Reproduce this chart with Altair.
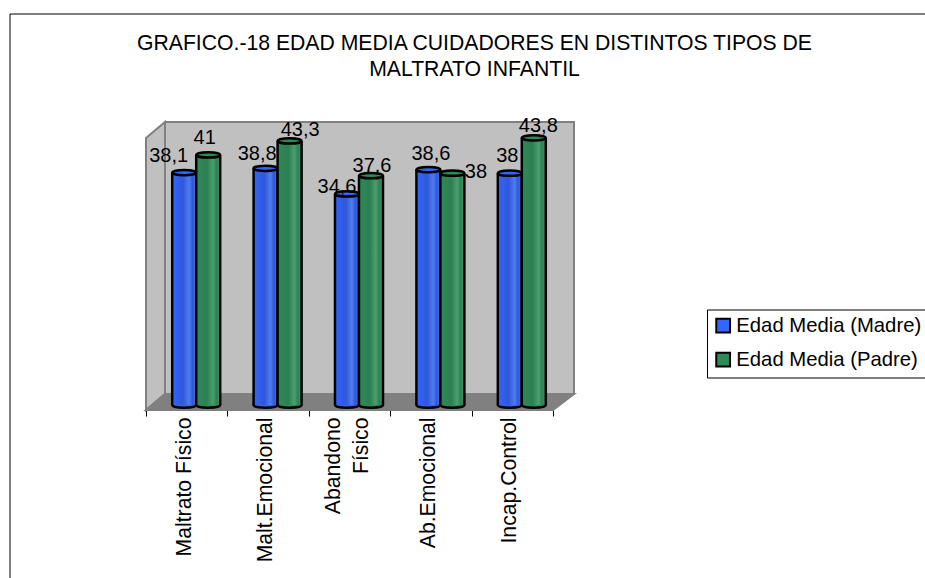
import altair as alt
import pandas as pd

categories = ["Maltrato Físico", "Malt.Emocional", "Abandono Físico", "Ab.Emocional", "Incap.Control"]
madre = [38.1, 38.8, 34.6, 38.6, 38.0]
padre = [41.0, 43.3, 37.6, 38.0, 43.8]
series_names = ["Edad Media (Madre)", "Edad Media (Padre)"]
title_lines = ["GRAFICO.-18 EDAD MEDIA CUIDADORES EN DISTINTOS TIPOS DE", "MALTRATO INFANTIL"]

# Hand-placed nudges for the value labels, in pixels from the band centre and column top
madre_dx = [-18, -11, -12.5, 0, -5]
madre_dy = [-10.7, -8, -1.4, -10, -11]
padre_dx = [18, 32, 22.5, 45, 26]
padre_dy = [-11, -5, -4, 4.3, -6]

FONT = "Liberation Sans"
BLUE = "#3366ff"
GREEN = "#2e8b57"
WIDTH, HEIGHT = 407, 288


def fmt(v):
    return f"{v:g}".replace(".", ",")


rows = []
for i, c in enumerate(categories):
    rows.append(dict(cat=c, serie=series_names[0], v=madre[i], label=fmt(madre[i]), dx=madre_dx[i], dy=madre_dy[i]))
    rows.append(dict(cat=c, serie=series_names[1], v=padre[i], label=fmt(padre[i]), dx=padre_dx[i], dy=padre_dy[i]))
data = pd.DataFrame(rows)

x_scale = alt.Scale(domain=categories, paddingInner=0, paddingOuter=0)
y_scale = alt.Scale(domain=[0, 46.4], range=[283, 0])
x_enc = alt.X(
    "cat:N",
    scale=x_scale,
    title=None,
    axis=alt.Axis(
        labelAngle=270,
        labelAlign="right",
        labelBaseline="middle",
        labelFont=FONT,
        labelFontSize=21.2,
        labelColor="black",
        labelLimit=300,
        labelPadding=1,
        labelOffset={
            "condition": {"test": "datum.value == 'Abandono Físico'", "value": -16.5},
            "value": -2.5,
        },
        labelLineHeight=28,
        # the second line of this label sits centred against the first
        labelExpr="datum.value == 'Abandono Físico' ? ['Abandono', 'Físico\u00a0\u00a0\u00a0\u2009'] : datum.label",
        tickBand="extent",
        tickColor="black",
        tickSize=6,
        domainColor="black",
        grid=False,
    ),
)
y_enc = alt.Y("v:Q", scale=y_scale, axis=None)
color_enc = alt.Color(
    "serie:N",
    scale=alt.Scale(domain=series_names, range=[BLUE, GREEN]),
    legend=alt.Legend(
        title=None,
        orient="none",
        legendX=561,
        legendY=187.5,
        fillColor="white",
        strokeColor="black",
        padding=6,
        rowPadding=11,
        symbolType="square",
        symbolSize=190,
        symbolStrokeColor="black",
        symbolStrokeWidth=2,
        symbolOpacity=1,
        labelFont=FONT,
        labelFontSize=20.3,
        labelColor="black",
        labelLimit=300,
        labelOffset=3,
    ),
)

# Chart frame, running off the right and bottom of the page
frame_top = alt.Chart().mark_rule(color="black", strokeWidth=1).encode(
    x=alt.value(-136), x2=alt.value(800), y=alt.value(-108)
)
frame_left = alt.Chart().mark_rule(color="black", strokeWidth=1).encode(
    x=alt.value(-136), y=alt.value(-108), y2=alt.value(470)
)

# Box walls: unit size 4 makes a custom symbol path draw at 1:1
def panel(path, fill):
    return alt.Chart().mark_point(
        shape=path, size=4, filled=True, fill=fill, stroke="#808080", strokeWidth=2, opacity=1
    ).encode(x=alt.value(0), y=alt.value(0))


side_wall = panel("M0,16L19,0L19,272L0,288Z", "#c0c0c0")
back_wall = panel("M19,0L428,0L428,272L19,272Z", "#c0c0c0")
floor = panel("M0,288L19,272L428,272L407,288Z", "#808080")

ELLIPSE = "M-1,0A1,0.22 0 1,1 1,0A1,0.22 0 1,1 -1,0Z"
BAR_W = 24


def shaded(dark, mid, light):
    return alt.Gradient(
        gradient="linear", x1=0, x2=1, y1=0, y2=0,
        stops=[
            alt.GradientStop(offset=0, color=mid),
            alt.GradientStop(offset=0.45, color=dark),
            alt.GradientStop(offset=0.7, color=light),
            alt.GradientStop(offset=0.85, color=dark),
            alt.GradientStop(offset=1, color=light),
        ],
    )


def cylinder(name, off, body, cap):
    sub = alt.Chart(data).transform_filter(alt.datum.serie == name)
    half = BAR_W / 2
    base = sub.transform_calculate(zero="0").mark_point(
        shape=ELLIPSE, size=BAR_W**2, filled=True, fill=cap, stroke="black", strokeWidth=2.5, opacity=1, xOffset=off
    ).encode(x=x_enc, y=alt.Y("zero:Q", scale=y_scale, axis=None))
    shaft = sub.mark_bar(size=BAR_W, color=body, xOffset=off).encode(
        x=x_enc, y=y_enc, y2=alt.datum(0)
    )
    left = sub.mark_rule(color="black", strokeWidth=2.5, xOffset=off - half).encode(
        x=x_enc, y=y_enc, y2=alt.datum(0)
    )
    right = sub.mark_rule(color="black", strokeWidth=2.5, xOffset=off + half).encode(
        x=x_enc, y=y_enc, y2=alt.datum(0)
    )
    top = sub.mark_point(
        shape=ELLIPSE, size=BAR_W**2, filled=True, stroke="black", strokeWidth=2.5, opacity=1, xOffset=off
    ).encode(x=x_enc, y=y_enc, color=color_enc)
    return [base, shaft, left, right, top]


blue_layers = cylinder(series_names[0], -2.5, shaded("#2f57d8", "#3366ff", "#4f7cf0"), BLUE)
green_layers = cylinder(series_names[1], 21.5, shaded("#2c7f52", "#2e8b57", "#4a9f70"), GREEN)

# One text layer per label, each with its own nudge
value_layers = [
    alt.Chart(data.iloc[[k]]).mark_text(
        font=FONT, fontSize=20, color="black", baseline="alphabetic", align="center",
        dx=float(r.dx), dy=float(r.dy),
    ).encode(x=x_enc, y=y_enc, text="label:N")
    for k, r in enumerate(data.itertuples())
]

chart = alt.layer(
    frame_top, frame_left, back_wall, side_wall, floor,
    *blue_layers, *green_layers, *value_layers,
).properties(
    width=WIDTH,
    height=HEIGHT,
    padding={"left": 146, "top": 122, "right": 372, "bottom": 168},
    autosize=alt.AutoSizeParams(type="none"),
    background="white",
    title=alt.TitleParams(
        text=title_lines,
        font=FONT,
        fontSize=21.2,
        fontWeight="normal",
        color="black",
        anchor="middle",
        dx=125,
        offset=-67,
        lineHeight=26,
    ),
).configure_view(stroke=None)

chart.save("out.html", embed_options={"renderer": "svg", "actions": False})
